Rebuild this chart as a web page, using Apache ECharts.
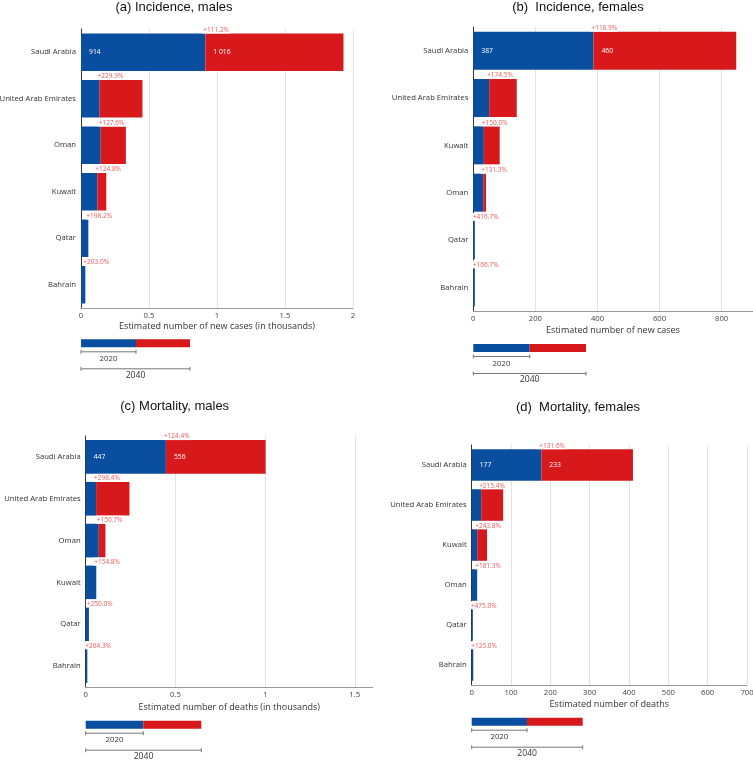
<!DOCTYPE html>
<html><head><meta charset="utf-8">
<script src="https://cdn.jsdelivr.net/npm/echarts@6/dist/echarts.min.js"></script>
<style>html,body{margin:0;padding:0;background:#fff}#c{width:753px;height:761px}</style>
</head><body><div id="c"></div>
<script>
// ---- data ----
const countriesA = ['Saudi Arabia','United Arab Emirates','Oman','Kuwait','Qatar','Bahrain'];
const incMales2020 = [914, 137, 145, 120, 54, 32];
const incMalesIncrease = [1016, 315, 185, 66, 0, 0];
const incMalesPct = ['+111.2%','+229.9%','+127.6%','+124.8%','+198.2%','+203.0%'];

const countriesB = ['Saudi Arabia','United Arab Emirates','Kuwait','Oman','Qatar','Bahrain'];
const incFemales2020 = [387, 51, 34, 32, 5, 5];
const incFemalesIncrease = [460, 89, 51, 9, 0, 0];
const incFemalesPct = ['+118.9%','+174.5%','+150.0%','+131.3%','+416.7%','+166.7%'];

const countriesC = ['Saudi Arabia','United Arab Emirates','Oman','Kuwait','Qatar','Bahrain'];
const mortMales2020 = [447, 58, 73, 59, 18, 9];
const mortMalesIncrease = [556, 186, 37, 0, 0, 0];
const mortMalesPct = ['+124.4%','+298.4%','+150.7%','+154.8%','+250.0%','+264.3%'];

const countriesD = ['Saudi Arabia','United Arab Emirates','Kuwait','Oman','Qatar','Bahrain'];
const mortFemales2020 = [177, 24, 14, 14, 3, 4];
const mortFemalesIncrease = [233, 56, 25, 0, 0, 0];
const mortFemalesPct = ['+131.6%','+215.4%','+243.8%','+181.3%','+475.0%','+125.0%'];

const legendYears = ['2020', '2040'];

// ---- styles / layout ----
const BLUE = '#0a4f9f', RED = '#d7191c', PCT = '#ef5b5b';
const FONT = 'Open Sans';
const panels = [
  {title:'(a) Incidence, males', tx:174, ty:1, cats:countriesA, base:incMales2020, inc:incMalesIncrease, pct:incMalesPct, scale:1000,
   max:2, interval:0.5, name:'Estimated number of new cases (in thousands)', nameGap:14, maxLabel:true, maxLine:true,
   grid:{left:81, top:29, width:272, height:279}, bw:37.5, lg:{x0:81, xm:136, x1:190, y:339.3}},
  {title:'(b)  Incidence, females', tx:578, ty:1, cats:countriesB, base:incFemales2020, inc:incFemalesIncrease, pct:incFemalesPct, scale:1,
   max:900, interval:200, name:'Estimated number of new cases', nameGap:14.5, maxLabel:false, maxLine:false,
   grid:{left:473.3, top:27, width:279.4, height:284}, bw:38, lg:{x0:473.3, xm:529.7, x1:586, y:344}},
  {title:'(c) Mortality, males', tx:174.7, ty:400, cats:countriesC, base:mortMales2020, inc:mortMalesIncrease, pct:mortMalesPct, scale:1000,
   max:1.6, interval:0.5, name:'Estimated number of deaths (in thousands)', nameGap:15.5, maxLabel:false, maxLine:false,
   grid:{left:85.7, top:436, width:287, height:251}, bw:33.7, lg:{x0:85.7, xm:143.3, x1:201.3, y:720.7}},
  {title:'(d)  Mortality, females', tx:578, ty:401, cats:countriesD, base:mortFemales2020, inc:mortFemalesIncrease, pct:mortFemalesPct, scale:1,
   max:700, interval:100, name:'Estimated number of deaths', nameGap:14.5, maxLabel:true, maxLine:true,
   grid:{left:471.7, top:445, width:275.3, height:240}, bw:31.6, lg:{x0:471.7, xm:527, x1:582.7, y:717.7}}
];

function fmt(n){ return String(n).replace(/\B(?=(\d{3})+(?!\d))/g, ' '); }

const option = {animation:false, backgroundColor:'#fff', title:[], grid:[], xAxis:[], yAxis:[], series:[], graphic:[]};

panels.forEach((p, i) => {
  option.title.push({text:p.title, left:p.tx, top:p.ty, textAlign:'center', padding:0,
    textStyle:{fontFamily:'Liberation Sans', fontSize:13, fontWeight:'normal', color:'#111'}});
  option.grid.push(Object.assign({containLabel:false, outerBoundsMode:'none'}, p.grid));
  option.xAxis.push({type:'value', gridIndex:i, min:0, max:p.max, interval:p.interval,
    axisLine:{show:true, lineStyle:{color:'#999', width:1}}, axisTick:{show:false},
    axisLabel:{fontFamily:FONT, fontSize:7.7, color:'#444', margin:3.5, showMaxLabel:p.maxLabel, showMinLabel:true},
    splitLine:{show:true, showMaxLine:p.maxLine, lineStyle:{color:'#e2e2e2', width:1}},
    name:p.name, nameLocation:'middle', nameGap:p.nameGap,
    nameTextStyle:{fontFamily:FONT, fontSize:9, color:'#333'}});
  option.yAxis.push({type:'category', gridIndex:i, data:p.cats, inverse:true,
    axisLine:{show:true, lineStyle:{color:'#333', width:1}}, axisTick:{show:false},
    axisLabel:{fontFamily:FONT, fontSize:7.7, color:'#333', margin:5}, splitLine:{show:false}});
  const valLabel = (arr) => ({show:true, position:'insideLeft', distance:8, color:'#fff', fontFamily:FONT, fontSize:6.8,
    formatter: (q) => q.dataIndex === 0 ? fmt(arr[0]) : ''});
  option.series.push({type:'bar', name:'2020', xAxisIndex:i, yAxisIndex:i, stack:'s'+i, barWidth:p.bw, barGap:'-100%',
    data:p.base.map(v => v / p.scale), itemStyle:{color:BLUE}, label:valLabel(p.base), silent:true});
  option.series.push({type:'bar', name:'increase', xAxisIndex:i, yAxisIndex:i, stack:'s'+i, barWidth:p.bw, barGap:'-100%',
    data:p.inc.map(v => v / p.scale), itemStyle:{color:RED}, label:valLabel(p.inc), silent:true});
  option.series.push({type:'bar', name:'pct', xAxisIndex:i, yAxisIndex:i, barWidth:p.bw, barGap:'-100%', z:5,
    data:p.base.map(v => v / p.scale), itemStyle:{color:'rgba(0,0,0,0)'}, silent:true,
    label:{show:true, position:['100%', 0], offset:[-3, 0], align:'left', verticalAlign:'bottom',
      color:PCT, fontFamily:FONT, fontSize:6.5, backgroundColor:'#fff', padding:[1,1,0,1],
      formatter:(q) => p.pct[q.dataIndex]}});

  // legend key
  const L = p.lg, g = option.graphic;
  g.push({type:'rect', shape:{x:L.x0, y:L.y, width:L.xm - L.x0, height:8}, style:{fill:BLUE}});
  g.push({type:'rect', shape:{x:L.xm, y:L.y, width:L.x1 - L.xm, height:8}, style:{fill:RED}});
  const bracket = (xa, xb, y) => {
    g.push({type:'line', shape:{x1:xa, y1:y, x2:xb, y2:y}, style:{stroke:'#777', lineWidth:1}});
    g.push({type:'line', shape:{x1:xa, y1:y-2, x2:xa, y2:y+2}, style:{stroke:'#777', lineWidth:1}});
    g.push({type:'line', shape:{x1:xb, y1:y-2, x2:xb, y2:y+2}, style:{stroke:'#777', lineWidth:1}});
  };
  bracket(L.x0, L.xm, L.y + 12.5);
  bracket(L.x0, L.x1, L.y + 29.5);
  g.push({type:'text', x:(L.x0 + L.xm)/2, y:L.y + 19.5, style:{text:legendYears[0], align:'center', verticalAlign:'middle',
    font:'7.8px "Open Sans"', fill:'#333'}});
  g.push({type:'text', x:(L.x0 + L.x1)/2, y:L.y + 36, style:{text:legendYears[1], align:'center', verticalAlign:'middle',
    font:'8.6px "Open Sans"', fill:'#333'}});
});

const chart = echarts.init(document.getElementById('c'), null, {renderer:'canvas', width:753, height:761});
chart.setOption(option);
</script></body></html>
